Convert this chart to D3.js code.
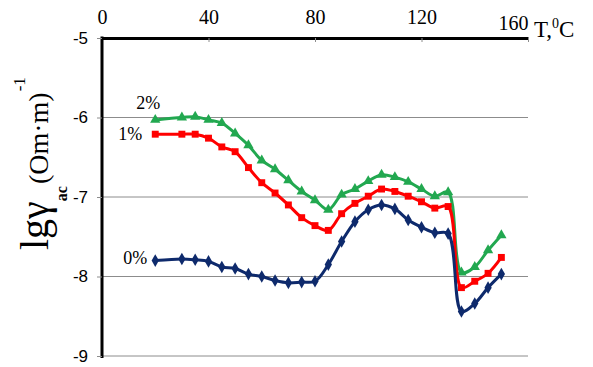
<!DOCTYPE html>
<html>
<head>
<meta charset="utf-8">
<script src="https://cdn.jsdelivr.net/npm/d3@7"></script>
<style>
  html, body { margin: 0; padding: 0; background: #fff; }
  svg { display: block; }
</style>
</head>
<body>
<svg id="chart" width="593" height="367"></svg>
<script>
// Temperature, °C
const temperature = [20, 30, 35, 40, 45, 50, 55, 60, 65, 70, 75, 80, 85, 90, 95, 100, 105, 110, 115, 120, 125, 130, 135, 140, 145, 150];

// lg of conductivity for each additive content
const series2 = [-6.03, -6.00, -5.99, -6.03, -6.07, -6.20, -6.35, -6.54, -6.65, -6.79, -6.93, -7.04, -7.16, -6.97, -6.90, -6.80, -6.72, -6.75, -6.81, -6.90, -6.99, -6.94, -7.95, -7.88, -7.67, -7.48];
const series1 = [-6.21, -6.21, -6.21, -6.26, -6.37, -6.43, -6.63, -6.82, -6.95, -7.10, -7.26, -7.36, -7.42, -7.21, -7.08, -6.99, -6.90, -6.93, -6.99, -7.06, -7.14, -7.12, -8.14, -8.06, -7.96, -7.76];
const series0 = [-7.80, -7.78, -7.79, -7.81, -7.88, -7.90, -7.97, -8.00, -8.05, -8.08, -8.07, -8.06, -7.85, -7.56, -7.31, -7.16, -7.10, -7.15, -7.29, -7.38, -7.45, -7.46, -8.44, -8.34, -8.14, -7.97];

const seriesNames = ["2%", "1%", "0%"];
const xTicks = [0, 40, 80, 120, 160];
const yTicks = [-9, -8, -7, -6, -5];

(function draw() {
  const svg = d3.select("#chart");
  const mLeft = 102, mRight = 528, mTop = 38, mBottom = 356;

  const x = d3.scaleLinear().domain([0, 160]).range([mLeft, mRight]);
  const y = d3.scaleLinear().domain([-9, -5]).range([mBottom, mTop]);

  // horizontal grid lines
  svg.append("g").selectAll("line")
    .data(yTicks.filter(d => d !== -5))
    .join("line")
    .attr("x1", mLeft).attr("x2", mRight)
    .attr("y1", d => y(d)).attr("y2", d => y(d))
    .attr("stroke", "#8c8c8c").attr("stroke-width", 1);

  // top (temperature) axis; the last label sits left of its tick, clear of the unit
  const lastX = xTicks[xTicks.length - 1];
  const gx = svg.append("g").attr("transform", `translate(0,${y(-5)})`)
    .call(d3.axisTop(x).tickValues(xTicks).tickSizeInner(-4).tickSizeOuter(0).tickPadding(14).tickFormat(d => String(d)));
  gx.select(".domain").attr("stroke", "#000").attr("stroke-width", 3);
  gx.selectAll(".tick line").attr("stroke", "#8c8c8c").attr("stroke-width", 1);
  gx.selectAll(".tick text")
    .attr("font-family", "Liberation Serif, Times New Roman, serif")
    .attr("font-size", 20).attr("fill", "#000")
    .attr("text-anchor", d => d === lastX ? "end" : "middle")
    .attr("dy", d => d === lastX ? "0.3em" : "0em");

  // left axis
  const gy = svg.append("g").attr("transform", `translate(${mLeft},0)`)
    .call(d3.axisLeft(y).tickValues(yTicks).tickSizeInner(5).tickSizeOuter(0).tickPadding(9).tickFormat(d => String(d)));
  gy.select(".domain").attr("stroke", "#000").attr("stroke-width", 3)
    .attr("d", `M0,${mTop - 1.5}V${mBottom + 2}`);
  gy.selectAll(".tick line").attr("stroke", "#8c8c8c").attr("stroke-width", 1);
  gy.selectAll(".tick text")
    .attr("font-family", "Liberation Sans, Arial, sans-serif")
    .attr("font-size", 17).attr("fill", "#000");

  // axis unit label
  const tUnit = svg.append("text")
    .attr("x", mRight + 6).attr("y", y(-5) - 1)
    .attr("font-family", "Liberation Serif, Times New Roman, serif")
    .attr("font-size", 23).attr("fill", "#000");
  tUnit.append("tspan").text("T,");
  tUnit.append("tspan").attr("font-size", 14).attr("dy", -9).text("0");
  tUnit.append("tspan").attr("dy", 9).text("C");

  // vertical title
  const yTitle = svg.append("text")
    .attr("transform", "translate(48,250) rotate(-90)")
    .attr("font-family", "Liberation Serif, Times New Roman, serif")
    .attr("fill", "#000");
  yTitle.append("tspan").attr("font-size", 40).text("lgγ");
  yTitle.append("tspan").attr("font-size", 16).attr("font-weight", "bold").attr("dy", 19).text("ac");
  yTitle.append("tspan").attr("font-size", 28).attr("dy", -19).attr("dx", 2).text("(Om·m)");
  yTitle.append("tspan").attr("font-size", 17).attr("dy", -23).attr("dx", 1).text("-1");

  // series
  const seriesDefs = [
    { name: seriesNames[0], values: series2, color: "#22a850", symbol: d3.symbolTriangle, size: 46, dx: 5, dy: -11 },
    { name: seriesNames[1], values: series1, color: "#ff0000", symbol: d3.symbolSquare, size: 48, dx: -13, dy: 6 },
    { name: seriesNames[2], values: series0, color: "#0e2a6c", symbol: d3.symbolDiamond, size: 46, dx: -8, dy: 3 }
  ];

  const line = d3.line()
    .x(d => x(d[0])).y(d => y(d[1]))
    .curve(d3.curveCatmullRom.alpha(0.5));

  seriesDefs.forEach(s => {
    const pts = temperature.map((t, i) => [t, s.values[i]]);
    const g = svg.append("g");
    g.append("path").datum(pts)
      .attr("d", line)
      .attr("fill", "none").attr("stroke", s.color).attr("stroke-width", 3)
      .attr("stroke-linejoin", "round");
    g.selectAll("path.m").data(pts).join("path").attr("class", "m")
      .attr("transform", d => `translate(${x(d[0])},${y(d[1])})`)
      .attr("d", d3.symbol(s.symbol, s.size))
      .attr("fill", s.color);
    svg.append("text")
      .attr("x", x(pts[0][0]) + s.dx).attr("y", y(pts[0][1]) + s.dy)
      .attr("text-anchor", "end")
      .attr("font-family", "Liberation Serif, Times New Roman, serif")
      .attr("font-size", 18).attr("fill", "#000")
      .text(s.name);
  });
})();
</script>
</body>
</html>
